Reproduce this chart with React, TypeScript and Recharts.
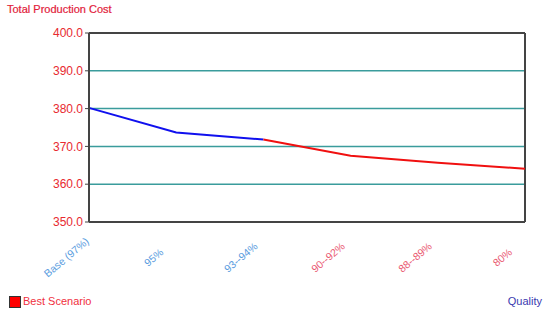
import { LineChart, Line, XAxis, YAxis, CartesianGrid, ReferenceLine } from "recharts";

const categories = ["Base (97%)", "95%", "93--94%", "90--92%", "88--89%", "80%"];
const baseValues: (number | null)[] = [380.2, 373.7, 371.8, null, null, null];
const bestValues: (number | null)[] = [null, null, 371.8, 367.5, 365.7, 364.1];
const yTicks = [350, 360, 370, 380, 390, 400];

const data = categories.map((c, i) => ({ name: c, base: baseValues[i], best: bestValues[i] }));

const font = "'Liberation Sans', Arial, sans-serif";

// eslint-disable-next-line @typescript-eslint/no-explicit-any
function XTick(props: any) {
    const { x, y, payload } = props;
    const color = payload.index < 3 ? "#5b9de0" : "#ea5b73";
    const cx = x - 22;
    const cy = y + 28;
    return (
        <text
            x={cx}
            y={cy}
            textAnchor="middle"
            dominantBaseline="middle"
            fontSize={10.5}
            fill={color}
            fontFamily={font}
            transform={`rotate(-40 ${cx} ${cy})`}
        >
            {payload.value}
        </text>
    );
}

export default function App() {
    return (
        <div style={{ position: "absolute", left: 0, top: 0, width: 550, height: 323, background: "#fff", fontFamily: font }}>
            <div style={{ position: "absolute", left: 7, top: 3, fontSize: 11, color: "#e2203a", WebkitTextStroke: "0.2px #e2203a" }}>
                Total Production Cost
            </div>
            <LineChart width={550} height={323} data={data} margin={{ top: 33, right: 25, left: 0, bottom: 0 }}>
                <CartesianGrid horizontal vertical={false} stroke="#3a9c9c" strokeWidth={1.5} />
                <XAxis
                    dataKey="name"
                    height={101}
                    tick={<XTick />}
                    tickLine={false}
                    axisLine={{ stroke: "#444", strokeWidth: 2 }}
                    interval={0}
                />
                <YAxis
                    domain={[350, 400]}
                    ticks={yTicks}
                    width={89}
                    tickFormatter={(v) => Number(v).toFixed(1)}
                    tick={{ fill: "#e82a30", fontSize: 12, fontFamily: font }}
                    tickSize={4}
                    tickLine={{ stroke: "#444" }}
                    axisLine={{ stroke: "#444", strokeWidth: 2 }}
                />
                <ReferenceLine y={400} stroke="#444" strokeWidth={2} />
                <ReferenceLine x="80%" stroke="#444" strokeWidth={2} />
                <Line type="linear" dataKey="base" stroke="#1010ee" strokeWidth={2} dot={false} isAnimationActive={false} />
                <Line type="linear" dataKey="best" stroke="#f01010" strokeWidth={2} dot={false} isAnimationActive={false} />
            </LineChart>
            <div style={{ position: "absolute", left: 9, top: 296, width: 10, height: 10, background: "#f00", border: "1px solid #333" }} />
            <div style={{ position: "absolute", left: 23, top: 295, fontSize: 11, color: "#f03040" }}>Best Scenario</div>
            <div style={{ position: "absolute", right: 8, top: 295, fontSize: 11, color: "#3a3ab0" }}>Quality</div>
        </div>
    );
}
